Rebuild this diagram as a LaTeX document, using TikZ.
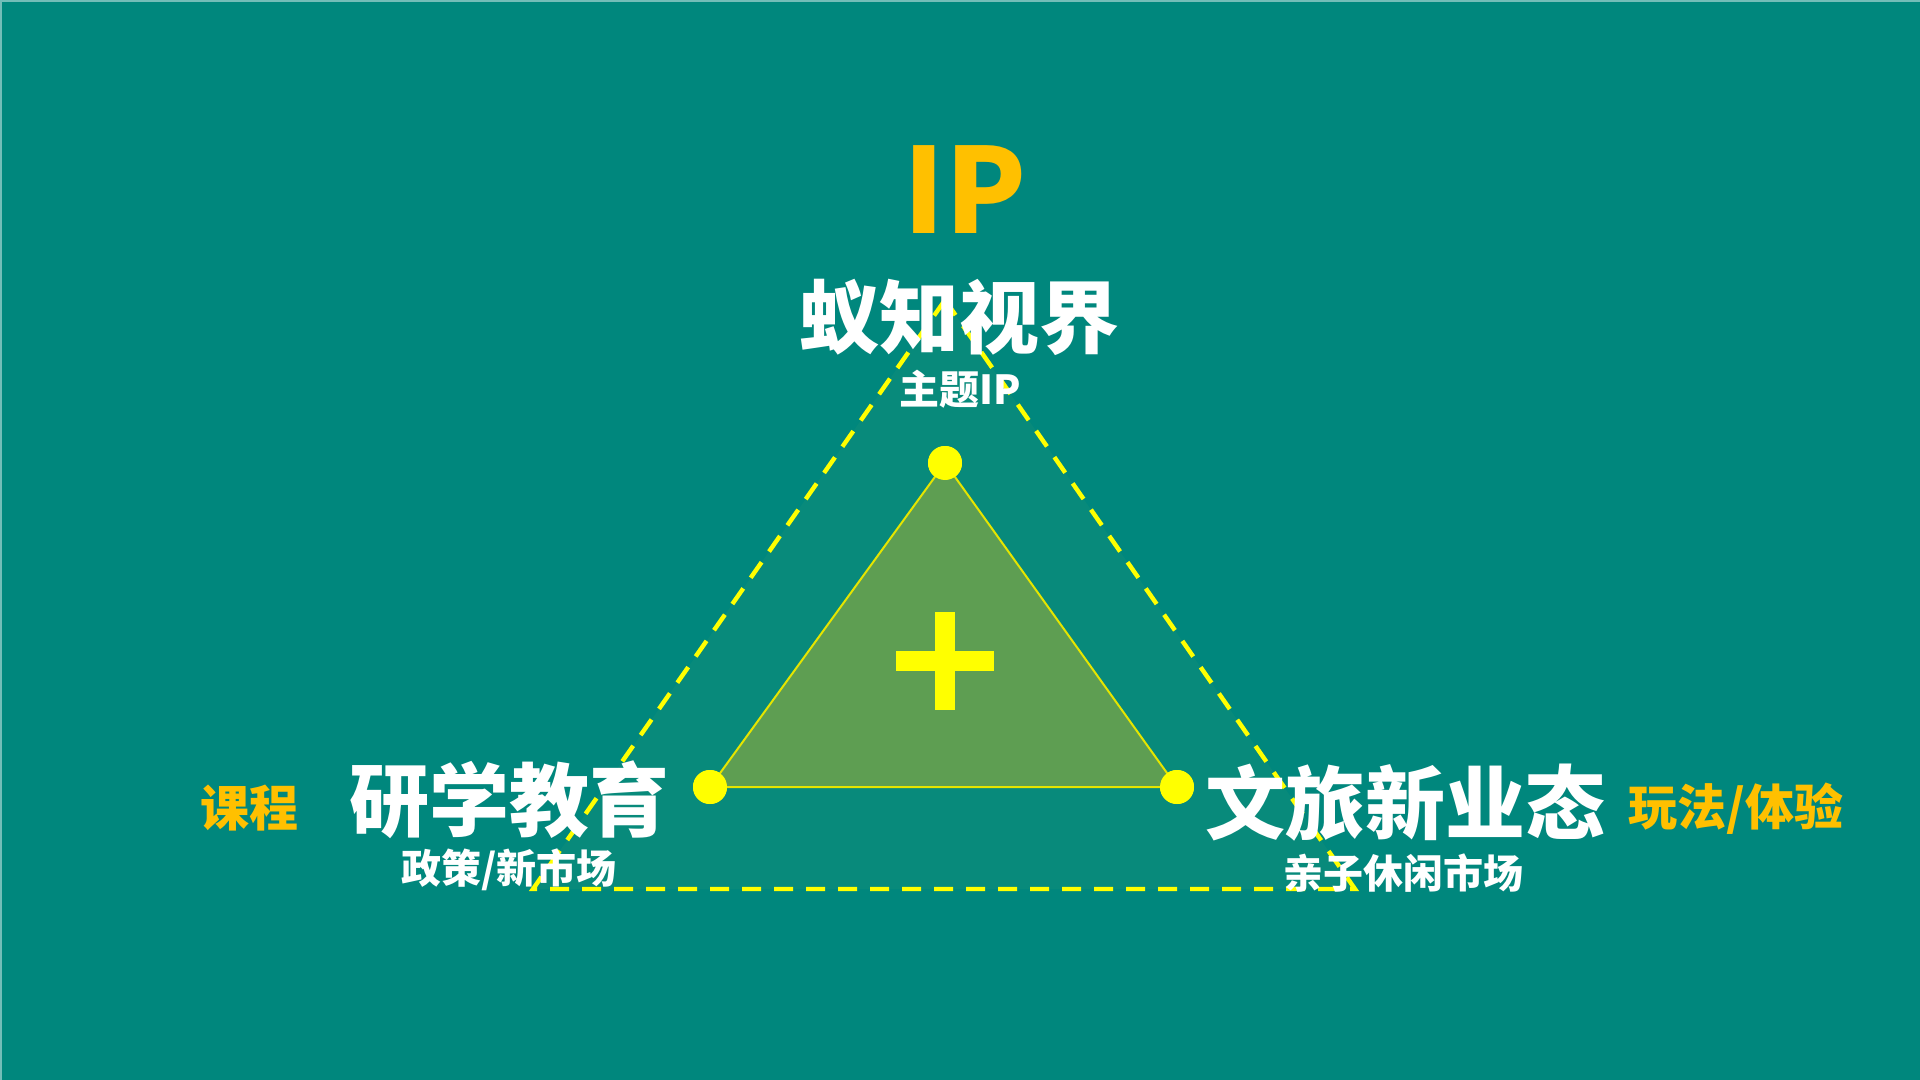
\documentclass[tikz,border=0pt]{standalone}
\usepackage{fontspec}
\newfontfamily\cjk{Noto Sans CJK SC}
\definecolor{bg}{HTML}{00877D}
\definecolor{bgin}{HTML}{088A7B}
\definecolor{tri}{HTML}{5E9E52}
\definecolor{org}{HTML}{FFC000}
\definecolor{yel}{HTML}{FFFF00}
\tikzset{
  txt/.style={inner sep=0pt, anchor=center, text=white, font=\cjk\bfseries},
  big/.style={txt, font=\cjk\bfseries\fontsize{40}{40}\selectfont},
  small/.style={txt, font=\cjk\bfseries\fontsize{20}{20}\selectfont},
  side/.style={txt, text=org, font=\cjk\bfseries\fontsize{24.5}{24.5}\selectfont},
  dot/.style={circle, fill=yel, inner sep=0pt, minimum size=17pt},
  dashline/.style={draw=yel, line width=2.2pt, dash pattern=on 9.5pt off 6.5pt},
}
\begin{document}
\begin{tikzpicture}[x=0.5pt,y=-0.5pt]
\useasboundingbox (0,0) rectangle (1920,1080);
\fill[bg] (0,0) rectangle (1920,1080);
\draw[white!45!bg, line width=1pt] (0.5,1080) -- (0.5,1) -- (1920,1);
% outer dashed triangle
\coordinate (oa) at (945,300);
\coordinate (ob) at (533,889);
\coordinate (oc) at (1355,889);
\fill[bgin] (oa) -- (ob) -- (oc) -- cycle;
\draw[dashline] (oa) -- (ob) -- (oc) -- cycle;
% inner triangle
\node[dot] (ta) at (945,463) {};
\node[dot] (tb) at (710,787) {};
\node[dot] (tc) at (1177,787) {};
\filldraw[fill=tri, draw=yel!90!black, line width=1pt] (ta.center) -- (tb.center) -- (tc.center) -- cycle;
\node[dot] at (ta.center) {};
\node[dot] at (tb.center) {};
\node[dot] at (tc.center) {};
% cross
\fill[yel] (896,651) rectangle (994,671);
\fill[yel] (935,612) rectangle (955,710);
% texts
\node[txt, text=org, font=\cjk\bfseries\fontsize{59}{59}\selectfont] (ip) at (965,190) {IP};
\node[big] (t1) at (959,317) {蚁知视界};
\node[small] (s1) at (960,389) {主题IP};
\node[big] (t2) at (509,800) {研学教育};
\node[small] (s2) at (509,870) {政策/新市场};
\node[side] (k2) at (249,808) {课程};
\node[big] (t3) at (1405,803) {文旅新业态};
\node[small] (s3) at (1403,873) {亲子休闲市场};
\node[side] (k3) at (1736,809) {玩法/体验};
\end{tikzpicture}
\end{document}
